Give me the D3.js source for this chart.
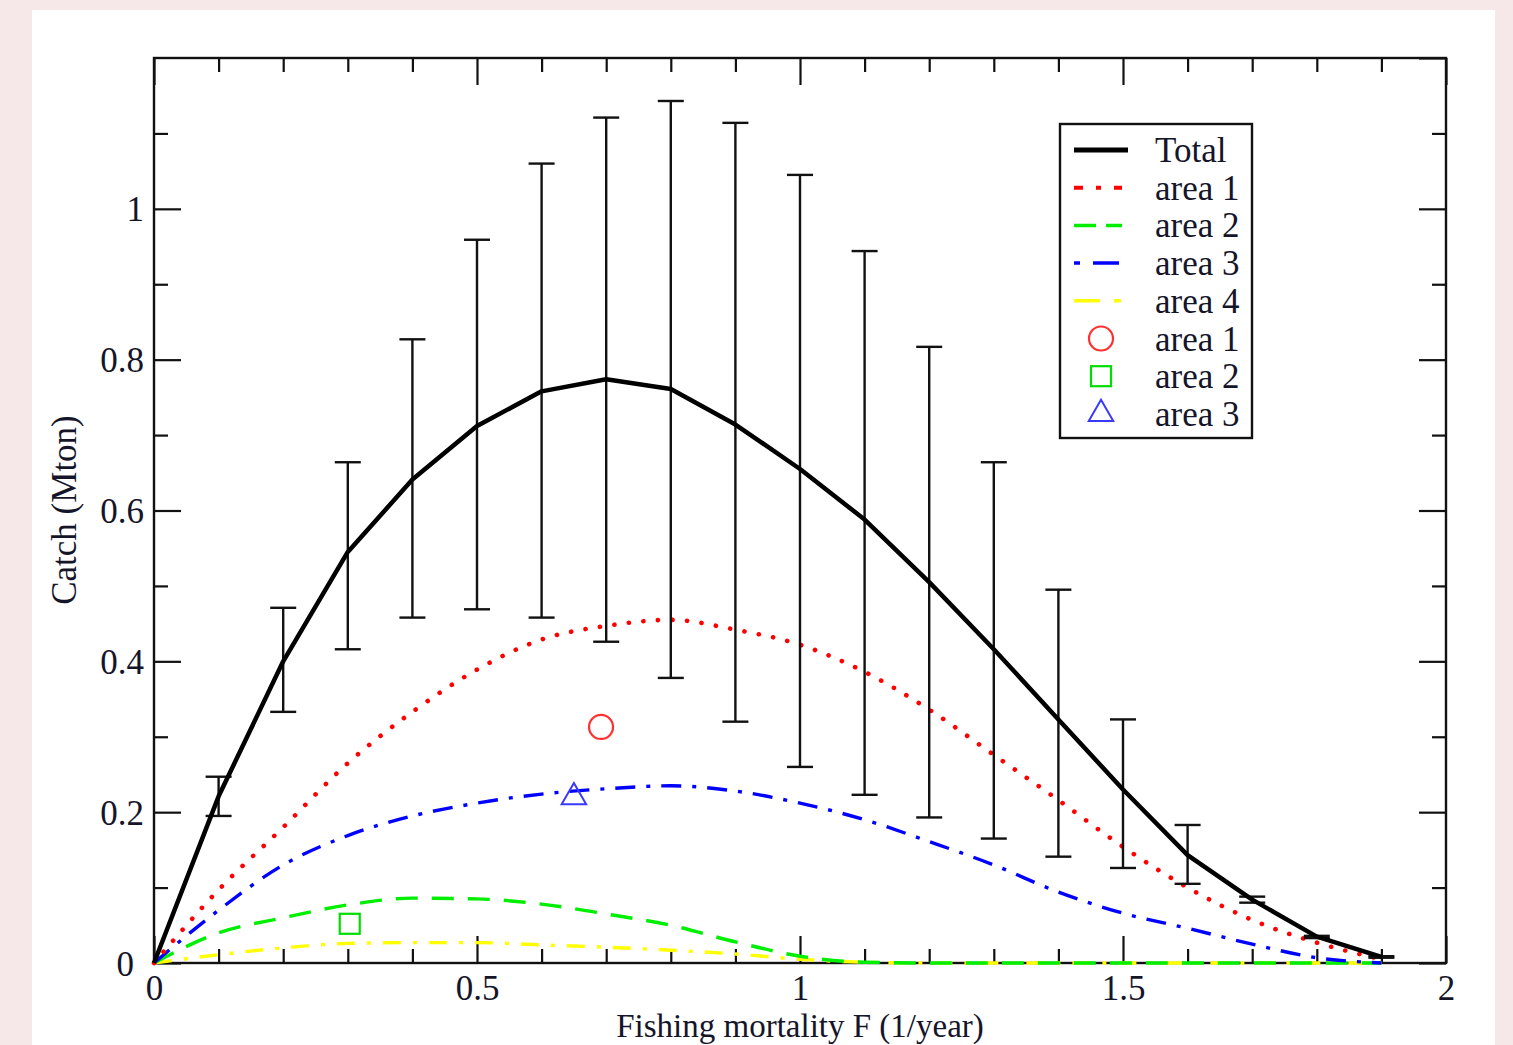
<!DOCTYPE html>
<html>
<head>
<meta charset="utf-8">
<script src="https://cdn.jsdelivr.net/npm/d3@7"></script>
<style>
  html, body { margin: 0; padding: 0; background: #f6e7e9; }
  svg { display: block; }
  text { font-family: "Liberation Serif", "DejaVu Serif", serif; }
</style>
</head>
<body>
<svg id="chart" width="1513" height="1045"></svg>
<script>
// ---------- data ----------
const fGrid   = [0, 0.1, 0.2, 0.3, 0.4, 0.5, 0.6, 0.7, 0.8, 0.9, 1.0, 1.1, 1.2, 1.3, 1.4, 1.5, 1.6, 1.7, 1.8, 1.9];
const total   = [0, 0.221, 0.40, 0.545, 0.641, 0.712, 0.758, 0.774, 0.761, 0.714, 0.655, 0.588, 0.505, 0.416, 0.323, 0.23, 0.143, 0.084, 0.035, 0.008];
const area1   = [0, 0.097, 0.18, 0.265, 0.333, 0.389, 0.429, 0.447, 0.455, 0.442, 0.422, 0.386, 0.336, 0.276, 0.216, 0.154, 0.100, 0.057, 0.027, 0.005];
const area2   = [0, 0.040, 0.060, 0.077, 0.086, 0.085, 0.078, 0.065, 0.050, 0.028, 0.009, 0.001, 0, 0, 0, 0, 0, 0, 0, 0];
const area3   = [0, 0.070, 0.130, 0.169, 0.195, 0.212, 0.224, 0.231, 0.235, 0.228, 0.212, 0.190, 0.161, 0.130, 0.094, 0.066, 0.046, 0.025, 0.007, 0];
const area4   = [0, 0.011, 0.020, 0.026, 0.027, 0.027, 0.024, 0.021, 0.017, 0.012, 0.005, 0.001, 0, 0, 0, 0, 0, 0, 0, 0];
const errF    = [0.1, 0.2, 0.3, 0.4, 0.5, 0.6, 0.7, 0.8, 0.9, 1.0, 1.1, 1.2, 1.3, 1.4, 1.5, 1.6, 1.7, 1.8, 1.9];
const errLow  = [0.195, 0.333, 0.416, 0.458, 0.469, 0.458, 0.426, 0.378, 0.32, 0.26, 0.223, 0.193, 0.165, 0.141, 0.126, 0.105, 0.080, 0.033, 0.007];
const errHigh = [0.247, 0.471, 0.664, 0.827, 0.959, 1.06, 1.121, 1.143, 1.114, 1.045, 0.944, 0.817, 0.664, 0.495, 0.323, 0.183, 0.088, 0.036, 0.009];
const markerF = [0.692, 0.303, 0.65];
const markerC = [0.313, 0.052, 0.22];
const markerNames = ["area 1", "area 2", "area 3"];
const lineNames = ["Total", "area 1", "area 2", "area 3", "area 4"];
const xMajor = [0, 0.5, 1, 1.5, 2];
const yMajor = [0, 0.2, 0.4, 0.6, 0.8, 1.0];
const xLabel = "Fishing mortality F (1/year)";
const yLabel = "Catch (Mton)";

// ---------- layout ----------
const svg = d3.select("#chart");
const L = 154, R = 1446, T = 58, B = 963;
const x = d3.scaleLinear().domain([0, 2]).range([L, R]);
const y = d3.scaleLinear().domain([0, 1.2]).range([B, T]);
const FONT = 35;
const textCol = "#15152a";

// page background + white panel
svg.append("rect").attr("x", 0).attr("y", 0).attr("width", 1513).attr("height", 1045).attr("fill", "#f6e7e9");
svg.append("rect").attr("x", 32).attr("y", 10).attr("width", 1463).attr("height", 1035).attr("fill", "#ffffff");

// ---------- axes ----------
const xMinor = d3.range(0, 2.0001, 0.1).filter(v => Math.abs(v * 2 - Math.round(v * 2)) > 1e-6);
const yMinor = d3.range(0, 1.2001, 0.1).filter(v => Math.abs(v * 5 - Math.round(v * 5)) > 1e-6);
const yMajorAll = [0, 0.2, 0.4, 0.6, 0.8, 1.0, 1.2];

function styleAxis(g) {
  g.select(".domain").remove();
  g.selectAll(".tick line").attr("stroke", "#111").attr("stroke-width", 2.2);
}

// bottom
svg.append("g").attr("transform", `translate(0,${B})`)
  .call(d3.axisBottom(x).tickValues(xMinor).tickSize(-14).tickFormat(""))
  .call(styleAxis);
const gxb = svg.append("g").attr("transform", `translate(0,${B})`)
  .call(d3.axisBottom(x).tickValues(xMajor).tickSize(-27).tickFormat(d3.format("~g")))
  .call(styleAxis);
gxb.selectAll(".tick text").attr("y", 37).attr("dy", 0)
  .attr("font-size", FONT).attr("fill", textCol).attr("font-family", "Liberation Serif");
// top
svg.append("g").attr("transform", `translate(0,${T})`)
  .call(d3.axisTop(x).tickValues(xMinor).tickSize(-14).tickFormat(""))
  .call(styleAxis);
svg.append("g").attr("transform", `translate(0,${T})`)
  .call(d3.axisTop(x).tickValues(xMajor).tickSize(-27).tickFormat(""))
  .call(styleAxis);
// left
svg.append("g").attr("transform", `translate(${L},0)`)
  .call(d3.axisLeft(y).tickValues(yMinor).tickSize(-14).tickFormat(""))
  .call(styleAxis);
const gyl = svg.append("g").attr("transform", `translate(${L},0)`)
  .call(d3.axisLeft(y).tickValues(yMajor).tickSize(-27).tickFormat(d3.format("~g")))
  .call(styleAxis);
gyl.selectAll(".tick text").attr("x", -10).attr("dy", 12).attr("text-anchor", "end")
  .attr("font-size", FONT).attr("fill", textCol).attr("font-family", "Liberation Serif");
gyl.selectAll(".tick").filter(d => d === 0).select("text").attr("x", -20);
// right
svg.append("g").attr("transform", `translate(${R},0)`)
  .call(d3.axisRight(y).tickValues(yMinor).tickSize(-14).tickFormat(""))
  .call(styleAxis);
svg.append("g").attr("transform", `translate(${R},0)`)
  .call(d3.axisRight(y).tickValues(yMajorAll).tickSize(-27).tickFormat(""))
  .call(styleAxis);

// frame
svg.append("rect").attr("x", L).attr("y", T).attr("width", R - L).attr("height", B - T)
  .attr("fill", "none").attr("stroke", "#111").attr("stroke-width", 2.4);

// axis titles
svg.append("text").attr("x", 800).attr("y", 1037).attr("text-anchor", "middle")
  .attr("font-size", 33).attr("fill", textCol).text(xLabel);
svg.append("text").attr("transform", "translate(76,510) rotate(-90)").attr("text-anchor", "middle")
  .attr("font-size", FONT).attr("fill", textCol).text(yLabel);

// ---------- series ----------
const plot = svg.append("g");
function series(vals) { return fGrid.map((f, i) => [f, vals[i]]); }
const smooth = d3.line().x(d => x(d[0])).y(d => y(d[1])).curve(d3.curveMonotoneX);
const straight = d3.line().x(d => x(d[0])).y(d => y(d[1]));

const styles = [
  { vals: area4, color: "#ffff00", width: 3.4, dash: "18,12,4,12", cap: "butt" },
  { vals: area2, color: "#00ee00", width: 3.4, dash: "22,14", cap: "butt" },
  { vals: area3, color: "#0000ff", width: 3.4, dash: "20,11,4,11", cap: "butt" },
  { vals: area1, color: "#ff0000", width: 4.6, dash: "0.1,14.5", cap: "round" }
];
styles.forEach(s => {
  plot.append("path").datum(series(s.vals)).attr("d", smooth)
    .attr("fill", "none").attr("stroke", s.color).attr("stroke-width", s.width)
    .attr("stroke-dasharray", s.dash).attr("stroke-linecap", s.cap);
});

// error bars
const capW = 13;
const eb = plot.append("g").attr("stroke", "#111").attr("stroke-width", 2.4);
errF.forEach((f, i) => {
  eb.append("line").attr("x1", x(f)).attr("x2", x(f)).attr("y1", y(errLow[i])).attr("y2", y(errHigh[i]));
  eb.append("line").attr("x1", x(f) - capW).attr("x2", x(f) + capW).attr("y1", y(errLow[i])).attr("y2", y(errLow[i]));
  eb.append("line").attr("x1", x(f) - capW).attr("x2", x(f) + capW).attr("y1", y(errHigh[i])).attr("y2", y(errHigh[i]));
});

// total
plot.append("path").datum(series(total)).attr("d", straight)
  .attr("fill", "none").attr("stroke", "#000").attr("stroke-width", 4.5).attr("stroke-linejoin", "round");

// markers
const mk = plot.append("g").attr("fill", "none");
mk.append("circle").attr("cx", x(markerF[0])).attr("cy", y(markerC[0])).attr("r", 12)
  .attr("stroke", "#ff3030").attr("stroke-width", 2.2);
mk.append("rect").attr("x", x(markerF[1]) - 10).attr("y", y(markerC[1]) - 10).attr("width", 20).attr("height", 20)
  .attr("stroke", "#00dd00").attr("stroke-width", 2.2);
mk.append("path").attr("d", d3.symbol(d3.symbolTriangle, 260)())
  .attr("transform", `translate(${x(markerF[2])},${y(markerC[2])})`)
  .attr("stroke", "#3a3aff").attr("stroke-width", 2);

// ---------- legend ----------
const lg = svg.append("g");
lg.append("rect").attr("x", 1060).attr("y", 124).attr("width", 192).attr("height", 314)
  .attr("fill", "#fff").attr("stroke", "#111").attr("stroke-width", 2.4);
const rowY = i => 150 + i * 37.7;
const legLines = [
  { color: "#000", width: 5, dash: null },
  { color: "#ff0000", width: 4, dash: "9,13,5,13,9" },
  { color: "#00ee00", width: 3.5, dash: "22,10" },
  { color: "#0000ff", width: 3.5, dash: "6,13,26" },
  { color: "#ffff00", width: 3.5, dash: "26,14,7" }
];
lineNames.forEach((n, i) => {
  const l = legLines[i];
  const ln = lg.append("line").attr("x1", 1074).attr("x2", 1122 + (i === 0 ? 6 : 0))
    .attr("y1", rowY(i)).attr("y2", rowY(i))
    .attr("stroke", l.color).attr("stroke-width", l.width);
  if (l.dash) ln.attr("stroke-dasharray", l.dash);
  lg.append("text").attr("x", 1155).attr("y", rowY(i) + 12).attr("font-size", FONT)
    .attr("fill", textCol).text(n);
});
const mx = 1101;
lg.append("circle").attr("cx", mx).attr("cy", rowY(5)).attr("r", 12)
  .attr("fill", "none").attr("stroke", "#ff3030").attr("stroke-width", 2.2);
lg.append("rect").attr("x", mx - 10).attr("y", rowY(6) - 10).attr("width", 20).attr("height", 20)
  .attr("fill", "none").attr("stroke", "#00dd00").attr("stroke-width", 2.2);
lg.append("path").attr("d", d3.symbol(d3.symbolTriangle, 260)())
  .attr("transform", `translate(${mx},${rowY(7)})`)
  .attr("fill", "none").attr("stroke", "#3a3aff").attr("stroke-width", 2);
markerNames.forEach((n, i) => {
  lg.append("text").attr("x", 1155).attr("y", rowY(5 + i) + 12).attr("font-size", FONT)
    .attr("fill", textCol).text(n);
});
</script>
</body>
</html>
